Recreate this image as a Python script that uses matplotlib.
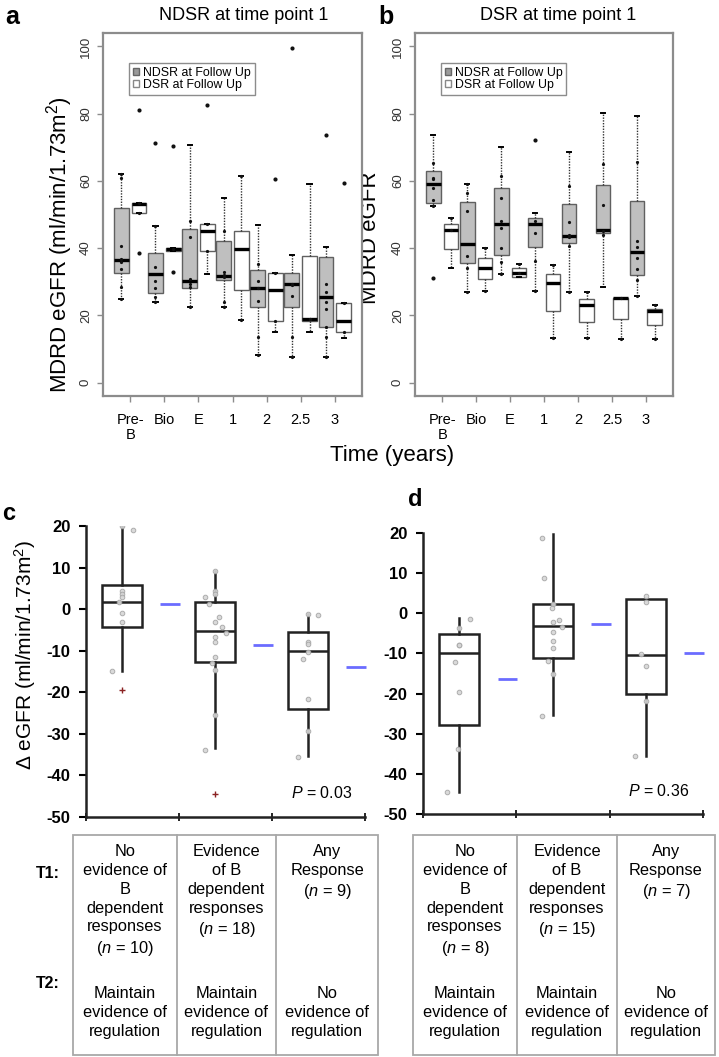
"""Recreation of the eGFR follow-up figure (panels a-d plus response tables)."""

import matplotlib

matplotlib.use("Agg")
import matplotlib.pyplot as plt  # noqa: E402
import numpy as np  # noqa: E402
from matplotlib.patches import Patch, Rectangle  # noqa: E402

plt.rcParams["font.family"] = ["Liberation Sans", "DejaVu Sans"]
plt.rcParams["mathtext.fontset"] = "custom"
plt.rcParams["mathtext.rm"] = "Liberation Sans"
plt.rcParams["mathtext.it"] = "Liberation Sans:italic"
plt.rcParams["mathtext.bf"] = "Liberation Sans:bold"

W, H = 719, 1057

# ---------------- panels a / b : MDRD eGFR over time ----------------
time_labels = ["Pre-\nB", "Bio", "E", "1", "2", "2.5", "3"]

# a: NDSR at time point 1
a_gray_whishi = [62.0, 46.6, 70.7, 54.8, 46.8, 37.9, 40.4]
a_gray_q3 = [51.8, 38.4, 45.6, 42.1, 33.5, 32.7, 37.5]
a_gray_med = [36.4, 32.3, 30.1, 31.8, 28.0, 29.3, 25.5]
a_gray_q1 = [32.5, 26.7, 28.0, 30.5, 22.4, 22.5, 16.4]
a_gray_whislo = [24.9, 24.1, 22.6, 22.6, 8.2, 7.7, 7.6]
a_gray_out = [[], [71.3], [], [], [], [99.4], [73.7]]
a_gray_pts = [[62, 61, 40.6, 36.9, 35.9, 33.9, 28.3, 24.9],
              [46.6, 34.5, 30.2, 28.2, 25.5, 24.1],
              [48, 43.2, 30.8, 29.3, 28.5, 22.6],
              [45, 32.9, 32, 31.3, 24.1, 22.6],
              [35.4, 30.3, 28, 24.4, 13.7, 8.2],
              [29.3, 29.0, 25.7, 13.7, 7.7],
              [29.3, 27, 24, 21.9, 16.4, 13.7, 7.6]]

a_white_whishi = [53.4, 40.1, 47.3, 61.5, 32.5, 59.0, 23.8]
a_white_q3 = [53.3, 40.1, 47.3, 45.0, 32.5, 37.7, 23.8]
a_white_med = [53.0, 39.6, 45.1, 39.7, 27.5, 19.0, 18.4]
a_white_q1 = [50.3, 39.1, 39.2, 27.5, 18.2, 18.4, 15.1]
a_white_whislo = [50.3, 39.1, 32.2, 18.6, 15.1, 15.1, 13.2]
a_white_out = [[81.0, 38.6], [70.3, 32.8], [82.7], [], [60.7], [], [59.5]]
a_white_pts = [[53.4, 50.3], [39.6], [47.3, 39.2], [61.5, 18.6],
               [32.5, 18.2], [19.0, 18.8], [23.8, 15.1]]

# b: DSR at time point 1
b_gray_whishi = [73.6, 59.2, 70.1, 50.3, 68.6, 80.2, 79.3]
b_gray_q3 = [63.0, 53.8, 57.9, 49.1, 53.0, 58.8, 53.9]
b_gray_med = [59.2, 41.1, 47.1, 47.3, 43.6, 45.5, 38.7]
b_gray_q1 = [53.3, 35.6, 37.9, 40.2, 41.4, 44.4, 32.0]
b_gray_whislo = [52.5, 26.8, 32.3, 27.2, 27.0, 28.3, 25.9]
b_gray_out = [[31.1], [], [], [72.3], [], [], []]
b_gray_pts = [[65.3, 61, 60.7, 58, 54.3, 52.5],
              [59.2, 56.5, 51, 37.6, 34, 26.8],
              [61.4, 55, 48, 46, 39.9, 35.8, 32.3],
              [48, 44.6, 36.2, 27.2],
              [58.4, 47.7, 44, 43.2, 40.6, 27],
              [65.1, 52.7, 45.1, 43.9],
              [65.7, 42.2, 40.2, 37.1, 33.8, 30.5, 25.9]]

b_white_whishi = [49.1, 39.9, 35.2, 35.1, 26.8, 25.3, 23.0]
b_white_q3 = [47.3, 37.0, 34.0, 32.3, 25.0, 25.3, 22.0]
b_white_med = [45.5, 34.2, 32.5, 29.7, 23.2, 25.1, 21.3]
b_white_q1 = [39.7, 30.8, 31.5, 21.4, 18.1, 18.8, 17.1]
b_white_whislo = [34.0, 27.3, 31.3, 13.3, 13.3, 13.0, 13.0]
b_white_out = [[], [], [], [], [], [], []]
b_white_pts = [[49.1, 45.5], [39.9, 27.3], [35.2, 32.5], [35.1, 13.3],
               [26.8, 13.3], [25.3, 13.0], [23.0, 13.0]]

# ---------------- panels c / d : change in eGFR ----------------
c_whishi = [20.0, 9.2, -1.1]
c_q3 = [5.8, 1.7, -5.5]
c_med = [1.8, -5.2, -10.1]
c_q1 = [-4.2, -12.7, -24.0]
c_whislo = [-14.8, -33.5, -35.4]
c_out = [[-19.4], [-44.5], []]
c_mean = [1.2, -8.6, -13.9]
c_pts = [[20, 19.0, 4.4, 3.7, 3.0, 1.6, -1.0, -3.2, -14.8],
         [9.2, 4.3, 3.7, 2.9, 1.3, -1.9, -3.0, -4.2, -5.8, -6.6, -8.0,
          -11.5, -13.0, -14.6, -25.4, -34.0],
         [-1.1, -1.4, -7.8, -8.4, -10.2, -12.0, -21.7, -29.3, -35.6]]
c_jit = [[0, 0.12, 0, 0, 0, -0.04, 0, 0, -0.11],
         [0, 0, 0, -0.11, -0.07, 0.04, 0, 0.075, 0.12, 0, 0, 0, -0.04, 0, 0, -0.11],
         [0, 0.1, 0, 0, 0, -0.06, 0, 0, -0.11]]

d_whishi = [-1.2, 19.8, 3.5]
d_q3 = [-5.1, 2.2, 3.5]
d_med = [-9.8, -3.2, -10.4]
d_q1 = [-27.8, -11.2, -20.2]
d_whislo = [-44.4, -25.3, -35.5]
d_out = [[], [], []]
d_mean = [-16.4, -2.7, -10.0]
d_pts = [[-1.3, -3.6, -7.8, -7.8, -12.1, -19.5, -33.9, -44.4],
         [18.7, 8.9, 2.2, 1.2, -1.7, -2.2, -3.3, -4.6, -6.8, -8.7, -11.9,
          -15.1, -25.5],
         [4.2, 2.9, -10.2, -13.1, -21.8, -35.5]]
d_jit = [[0.11, 0, 0, 0, -0.05, 0, -0.01, -0.13],
         [-0.11, -0.09, 0, -0.01, 0.065, 0, 0.1, 0, 0, 0, -0.05, 0, -0.12],
         [0, 0, -0.05, 0, 0, -0.12]]

c_p = "$\\it{P}$ = 0.03"
d_p = "$\\it{P}$ = 0.36"

t1_c = ["No\nevidence of\nB\ndependent\nresponses\n($\\it{n}$ = 10)",
        "Evidence\nof B\ndependent\nresponses\n($\\it{n}$ = 18)",
        "Any\nResponse\n($\\it{n}$ = 9)"]
t1_d = ["No\nevidence of\nB\ndependent\nresponses\n($\\it{n}$ = 8)",
        "Evidence\nof B\ndependent\nresponses\n($\\it{n}$ = 15)",
        "Any\nResponse\n($\\it{n}$ = 7)"]
t2 = ["Maintain\nevidence of\nregulation",
      "Maintain\nevidence of\nregulation",
      "No\nevidence of\nregulation"]

GRAY = "#bfbfbf"
FRAME = "#8c8c8c"
MEAN_BLUE = "#6b6cff"


def px_axes(fig, x0, y0, x1, y1):
    return fig.add_axes([x0 / W, 1 - y1 / H, (x1 - x0) / W, (y1 - y0) / H])


def make_stats(whishi, q3, med, q1, whislo, out):
    return [dict(whishi=a, q3=b, med=c, q1=d, whislo=e, fliers=f)
            for a, b, c, d, e, f in zip(whishi, q3, med, q1, whislo, out)]


def draw_followup(ax, gray_stats, white_stats, gray_pts, white_pts):
    pos = np.arange(1, 8)
    for stats, pts, off, face in [(gray_stats, gray_pts, -0.26, GRAY),
                                  (white_stats, white_pts, 0.26, "white")]:
        ax.bxp(stats, positions=pos + off, widths=0.43, patch_artist=True,
               boxprops=dict(facecolor=face, edgecolor="#606060", linewidth=1.0),
               medianprops=dict(color="black", linewidth=2.4),
               whiskerprops=dict(color="#333333", linestyle=(0, (1, 1)), linewidth=1.0),
               capprops=dict(color="black", linewidth=1.4), capwidths=0.12,
               flierprops=dict(marker="o", markersize=3, markerfacecolor="#111111",
                               markeredgecolor="none"),
               manage_ticks=False)
        for p, vals in zip(pos + off, pts):
            ax.plot([p] * len(vals), vals, "o", color="#111111", markersize=2.3,
                    markeredgewidth=0, zorder=4)
    ax.set_xlim(0.2, 7.8)
    ax.set_ylim(-4, 104)
    ax.set_xticks(pos)
    ax.set_xticklabels(time_labels, fontsize=10.5, linespacing=1.15)
    ax.set_yticks(np.arange(0, 101, 20))
    ax.set_yticklabels([str(v) for v in range(0, 101, 20)], rotation=90,
                       va="center", fontsize=9.5, color="#333333")
    ax.tick_params(axis="both", color=FRAME, length=4, width=1)
    ax.tick_params(axis="x", pad=8)
    ax.tick_params(axis="y", pad=4)
    for sp in ax.spines.values():
        sp.set_color(FRAME)
        sp.set_linewidth(1.6)
    handles = [Patch(facecolor="#9a9a9a", edgecolor="#666666", label="NDSR at Follow Up"),
               Patch(facecolor="white", edgecolor="#888888", label="DSR at Follow Up")]
    ax.legend(handles=handles, loc="upper left", bbox_to_anchor=(0.1, 0.917),
              fontsize=8.9, labelspacing=0.0, handlelength=0.55, handleheight=0.55,
              handletextpad=0.3, borderpad=0.3, borderaxespad=0, fancybox=False,
              edgecolor=FRAME, framealpha=1)


def draw_delta(ax, stats, pts, jit, means, ptext):
    pos = np.arange(3) + 0.39
    ax.bxp(stats, positions=pos, widths=0.43, patch_artist=True,
           boxprops=dict(facecolor="none", edgecolor="#222222", linewidth=1.8),
           medianprops=dict(color="#222222", linewidth=1.8),
           whiskerprops=dict(color="#222222", linewidth=1.8),
           capprops=dict(linewidth=0), capwidths=0,
           flierprops=dict(marker="+", markersize=5, markeredgecolor="#8b2323",
                           markeredgewidth=1.0),
           manage_ticks=False)
    for p, vals, js in zip(pos, pts, jit):
        ax.scatter(np.array(js) + p, vals, s=11, facecolor="#d6d6d6",
                   edgecolor="#a6a6a6", linewidth=0.7, zorder=4, alpha=0.9)
    ax.hlines(means, np.arange(3) + 0.8, np.arange(3) + 1.01, color=MEAN_BLUE,
              linewidth=2, clip_on=False, zorder=5)
    ax.text(2.2, -44.2, ptext, fontsize=11.5, va="center", ha="left")
    ax.set_xlim(0, 3)
    ax.set_ylim(-50, 20)
    ax.set_xticks([0, 1, 2, 3])
    ax.set_xticklabels([])
    ax.set_yticks(np.arange(-50, 21, 10))
    ax.set_yticklabels([str(v) for v in range(-50, 21, 10)], fontsize=12,
                       fontweight="bold")
    ax.tick_params(axis="y", length=5, width=1.5, pad=6)
    ax.tick_params(axis="x", direction="inout", length=6, width=1.2)
    for name in ("top", "right"):
        ax.spines[name].set_visible(False)
    for name in ("left", "bottom"):
        ax.spines[name].set_linewidth(1.8)
        ax.spines[name].set_color("#222222")


fig = plt.figure(figsize=(W / 100, H / 100), dpi=100)

# overlay for free text and the tables (pixel coordinates, y downward)
ov = fig.add_axes([0, 0, 1, 1])
ov.set_xlim(0, W)
ov.set_ylim(H, 0)
ov.axis("off")

ax_a = px_axes(fig, 103, 33, 362, 396)
draw_followup(ax_a,
              make_stats(a_gray_whishi, a_gray_q3, a_gray_med, a_gray_q1, a_gray_whislo, a_gray_out),
              make_stats(a_white_whishi, a_white_q3, a_white_med, a_white_q1, a_white_whislo, a_white_out),
              a_gray_pts, a_white_pts)

ax_b = px_axes(fig, 415, 33, 673, 396)
draw_followup(ax_b,
              make_stats(b_gray_whishi, b_gray_q3, b_gray_med, b_gray_q1, b_gray_whislo, b_gray_out),
              make_stats(b_white_whishi, b_white_q3, b_white_med, b_white_q1, b_white_whislo, b_white_out),
              b_gray_pts, b_white_pts)

ax_c = px_axes(fig, 86, 526, 365, 817)
draw_delta(ax_c, make_stats(c_whishi, c_q3, c_med, c_q1, c_whislo, c_out),
           c_pts, c_jit, c_mean, c_p)

ax_d = px_axes(fig, 423, 533, 703, 814)
draw_delta(ax_d, make_stats(d_whishi, d_q3, d_med, d_q1, d_whislo, d_out),
           d_pts, d_jit, d_mean, d_p)

# labels
ov.text(12, 17, "a", fontsize=18, fontweight="bold", ha="center", va="center")
ov.text(386, 17, "b", fontsize=18, fontweight="bold", ha="center", va="center")
ov.text(9, 514, "c", fontsize=17, fontweight="bold", ha="center", va="center")
ov.text(415, 500, "d", fontsize=17, fontweight="bold", ha="center", va="center")
ov.text(244, 15, "NDSR at time point 1", fontsize=13, ha="center", va="center")
ov.text(558, 15, "DSR at time point 1", fontsize=13, ha="center", va="center")
ov.text(60, 245, "MDRD eGFR (ml/min/1.73m$^2$)", fontsize=16, rotation=90,
        ha="center", va="center")
ov.text(370, 238, "MDRD eGFR", fontsize=16, rotation=90, ha="center", va="center")
ov.text(392, 456, "Time (years)", fontsize=16, ha="center", va="center")
ov.text(25, 655, "\u0394 eGFR (ml/min/1.73m$^2$)", fontsize=15, rotation=90,
        ha="center", va="center")

# tables under c and d
ov.text(48, 873, "T1:", fontsize=11.5, fontweight="bold", ha="center", va="center")
ov.text(48, 983, "T2:", fontsize=11.5, fontweight="bold", ha="center", va="center")
for edges, t1 in [([73, 177, 276, 378], t1_c), ([413, 517, 617, 715], t1_d)]:
    ov.add_patch(Rectangle((edges[0], 835), edges[-1] - edges[0], 220,
                           fill=False, edgecolor="#a8a8a8", linewidth=1.3))
    for xv in edges[1:-1]:
        ov.plot([xv, xv], [835, 1055], color="#a8a8a8", linewidth=1.3)
    for i in range(3):
        cx = (edges[i] + edges[i + 1]) / 2
        ov.text(cx, 844, t1[i], fontsize=11.8, ha="center", va="top",
                linespacing=1.32)
        ov.text(cx, 986, t2[i], fontsize=11.8, ha="center", va="top",
                linespacing=1.32)

fig.savefig("out.png", dpi=100)
